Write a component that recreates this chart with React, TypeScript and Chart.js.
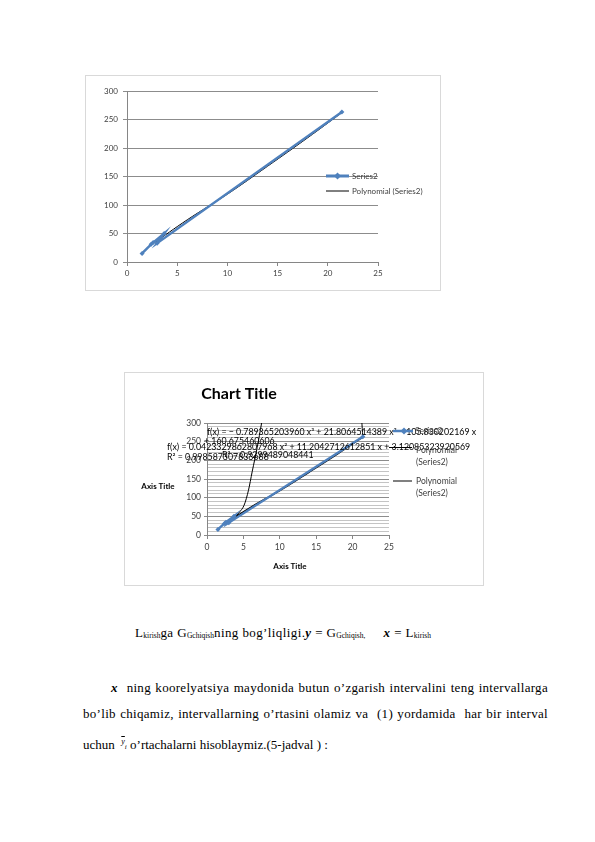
import React, { useEffect, useRef } from "react";
import { Chart, registerables } from "chart.js";

Chart.register(...registerables);

// Series2 measured points (x, y), in drawing order
const series2X = [1.5, 2.4, 2.6, 3.7, 3.0, 21.4];
const series2Y = [15, 31, 34, 50, 33, 263];

// polynomial (order 2) trendline
const polyX = [2.5, 6, 10, 14, 18, 21.4];
const polyY = [31, 74, 119, 168, 218, 262];

// polynomial (order 3) trendline of the second chart, leaves the plot at the top
const cubicX = [2.5, 3, 3.7, 4.4, 5.1, 5.7, 6.2, 6.9, 7.5, 8.2, 21.1, 21.25, 21.4];
const cubicY = [30, 33, 44, 60, 80, 120, 169, 235, 300, 380, 380, 310, 263];

const xTicks = [0, 5, 10, 15, 20, 25];
const yTicks = [0, 50, 100, 150, 200, 250, 300];

const eqCubic = ["f(x) = − 0.789365203960 x³ + 21.8064514389 x² − 105.830202169 x", "+ 160.675460606", "R² = 0.9299489048441"];
const eqQuad = ["f(x) = 0.0423329862807968 x² + 11.2042712612851 x + 3.12085323920569", "R² = 0.998587307833688"];

const BLUE = "#4f81bd";
const FONT = "Lato, 'Liberation Sans', sans-serif";

const toPts = (xs: number[], ys: number[]) => xs.map((x, i) => ({ x, y: ys[i] }));

function diamond(ctx: CanvasRenderingContext2D, x: number, y: number, r: number) {
  ctx.beginPath();
  ctx.moveTo(x, y - r);
  ctx.lineTo(x + r, y);
  ctx.lineTo(x, y + r);
  ctx.lineTo(x - r, y);
  ctx.closePath();
  ctx.fill();
}

const overlay1 = {
  id: "overlay1",
  afterDraw(chart: any) {
    const ctx = chart.ctx as CanvasRenderingContext2D;
    ctx.save();
    ctx.font = `8px ${FONT}`;
    ctx.textBaseline = "middle";
    // legend
    ctx.strokeStyle = BLUE;
    ctx.lineWidth = 3;
    ctx.beginPath();
    ctx.moveTo(240, 100);
    ctx.lineTo(263, 100);
    ctx.stroke();
    ctx.fillStyle = BLUE;
    diamond(ctx, 251.5, 100, 3.5);
    ctx.strokeStyle = "#000";
    ctx.lineWidth = 1;
    ctx.beginPath();
    ctx.moveTo(240, 115);
    ctx.lineTo(263, 115);
    ctx.stroke();
    ctx.fillStyle = "#404040";
    ctx.fillText("Series2", 266, 100);
    ctx.fillText("Polynomial (Series2)", 266, 115);
    ctx.restore();
  },
};

const overlay2 = {
  id: "overlay2",
  afterDraw(chart: any) {
    const ctx = chart.ctx as CanvasRenderingContext2D;
    // canvas origin is page (125, 373)
    const ox = 125;
    const oy = 373;
    ctx.save();
    ctx.textBaseline = "middle";
    ctx.fillStyle = "#000";
    ctx.font = `bold 16px ${FONT}`;
    ctx.textAlign = "center";
    ctx.fillText("Chart Title", 239 - ox, 394 - oy);
    ctx.font = `bold 8px ${FONT}`;
    ctx.fillText("Axis Title", 158 - ox, 486 - oy);
    ctx.fillText("Axis Title", 290 - ox, 566 - oy);

    ctx.textAlign = "left";
    ctx.font = `8.8px ${FONT}`;
    ctx.fillStyle = "#000";
    ctx.fillText(eqCubic[0], 207 - ox, 432 - oy);
    ctx.fillText(eqCubic[1], 204 - ox, 441 - oy);
    ctx.fillText(eqQuad[0], 167 - ox, 447 - oy);
    ctx.fillText(eqCubic[2], 222 - ox, 455 - oy);
    ctx.fillText(eqQuad[1], 167 - ox, 457 - oy);

    // legend
    ctx.strokeStyle = BLUE;
    ctx.lineWidth = 2.5;
    ctx.beginPath();
    ctx.moveTo(393 - ox, 431 - oy);
    ctx.lineTo(413 - ox, 431 - oy);
    ctx.stroke();
    ctx.fillStyle = BLUE;
    diamond(ctx, 404 - ox, 431 - oy, 3.5);
    ctx.strokeStyle = "#000";
    ctx.lineWidth = 1;
    ctx.beginPath();
    ctx.moveTo(389 - ox, 447.5 - oy);
    ctx.lineTo(412 - ox, 447.5 - oy);
    ctx.stroke();
    ctx.strokeStyle = "#808080";
    ctx.lineWidth = 2;
    ctx.beginPath();
    ctx.moveTo(393 - ox, 481 - oy);
    ctx.lineTo(412 - ox, 481 - oy);
    ctx.stroke();
    ctx.font = `8.5px ${FONT}`;
    ctx.fillStyle = "#404040";
    ctx.fillText("Series2", 415 - ox, 431 - oy);
    ctx.fillText("Polynomial", 416 - ox, 450 - oy);
    ctx.fillText("(Series2)", 416 - ox, 462 - oy);
    ctx.fillText("Polynomial", 416 - ox, 481 - oy);
    ctx.fillText("(Series2)", 416 - ox, 493 - oy);
    ctx.restore();
  },
};

function FirstChart() {
  const ref = useRef<HTMLCanvasElement>(null);
  useEffect(() => {
    if (!ref.current) return;
    const chart = new Chart(ref.current, {
      type: "scatter",
      data: {
        datasets: [
          {
            label: "Series2",
            data: toPts(series2X, series2Y),
            showLine: true,
            borderColor: BLUE,
            backgroundColor: BLUE,
            borderWidth: 2.5,
            pointStyle: "rectRot",
            pointRadius: 2.5,
            pointBorderWidth: 0,
          },
          {
            label: "Polynomial (Series2)",
            data: toPts(polyX, polyY),
            showLine: true,
            borderColor: "#000",
            borderWidth: 1,
            pointRadius: 0,
            tension: 0.4,
          },
        ],
      },
      options: {
        animation: false,
        responsive: true,
        maintainAspectRatio: false,
        layout: { padding: { left: 0, top: 15, right: 62, bottom: 0 } },
        plugins: { legend: { display: false }, tooltip: { enabled: false } },
        scales: {
          x: {
            type: "linear",
            min: xTicks[0],
            max: xTicks[xTicks.length - 1],
            afterFit: (s: any) => {
              s.height = 28;
            },
            afterBuildTicks: (s: any) => {
              s.ticks = xTicks.map((v) => ({ value: v }));
            },
            grid: { drawOnChartArea: false, color: "#868686", tickLength: 4 },
            border: { color: "#868686" },
            ticks: { color: "#404040", font: { family: FONT, size: 8 }, padding: 3 },
          },
          y: {
            min: yTicks[0],
            max: yTicks[yTicks.length - 1],
            afterFit: (s: any) => {
              s.width = 41;
            },
            afterBuildTicks: (s: any) => {
              s.ticks = yTicks.map((v) => ({ value: v }));
            },
            grid: { color: "#8c8c8c", tickLength: 4 },
            border: { color: "#868686" },
            ticks: { color: "#404040", font: { family: FONT, size: 8 }, padding: 5 },
          },
        },
      },
      plugins: [overlay1],
    });
    return () => chart.destroy();
  }, []);
  return <canvas ref={ref}></canvas>;
}

function SecondChart() {
  const ref = useRef<HTMLCanvasElement>(null);
  useEffect(() => {
    if (!ref.current) return;
    const isMajor = (v: number) => v % 50 === 0;
    const chart = new Chart(ref.current, {
      type: "scatter",
      data: {
        datasets: [
          {
            label: "Series2",
            data: toPts(series2X, series2Y),
            showLine: true,
            borderColor: BLUE,
            backgroundColor: BLUE,
            borderWidth: 2.5,
            pointStyle: "rectRot",
            pointRadius: 2.5,
            pointBorderWidth: 0,
          },
          {
            label: "Polynomial (Series2)",
            data: toPts(polyX, polyY),
            showLine: true,
            borderColor: "#000",
            borderWidth: 1.5,
            pointRadius: 0,
            tension: 0.4,
          },
          {
            label: "Polynomial (Series2)",
            data: toPts(cubicX, cubicY),
            showLine: true,
            borderColor: "#000",
            borderWidth: 1,
            pointRadius: 0,
            cubicInterpolationMode: "monotone",
          },
        ],
      },
      options: {
        animation: false,
        responsive: true,
        maintainAspectRatio: false,
        layout: { padding: { left: 0, top: 50, right: 94, bottom: 0 } },
        plugins: { legend: { display: false }, tooltip: { enabled: false } },
        scales: {
          x: {
            type: "linear",
            min: xTicks[0],
            max: xTicks[xTicks.length - 1],
            afterFit: (s: any) => {
              s.height = 50;
            },
            afterBuildTicks: (s: any) => {
              s.ticks = xTicks.map((v) => ({ value: v }));
            },
            grid: { drawOnChartArea: false, color: "#868686", tickLength: 4 },
            border: { color: "#868686" },
            ticks: { color: "#404040", font: { family: FONT, size: 8.5 }, padding: 3 },
          },
          y: {
            min: 0,
            max: 300,
            afterFit: (s: any) => {
              s.width = 82;
            },
            afterBuildTicks: (s: any) => {
              const t = [];
              for (let v = yTicks[0]; v <= yTicks[yTicks.length - 1]; v += 10) t.push({ value: v });
              s.ticks = t;
            },
            grid: {
              color: (c: any) => (isMajor(c.tick.value) ? "#8c8c8c" : "#c4c4c4"),
              tickColor: (c: any) => (isMajor(c.tick.value) ? "#8c8c8c" : "rgba(0,0,0,0)"),
              tickLength: 3,
            },
            border: { color: "#868686" },
            ticks: {
              autoSkip: false,
              color: "#404040",
              font: { family: FONT, size: 8.5 },
              padding: 3,
              callback: (v: any) => (isMajor(Number(v)) ? String(v) : ""),
            },
          },
        },
      },
      plugins: [overlay2],
    });
    return () => chart.destroy();
  }, []);
  return <canvas ref={ref}></canvas>;
}

const serif = "'Liberation Serif', 'Times New Roman', serif";
const sub: React.CSSProperties = { fontSize: "7.5px", verticalAlign: "-1px", letterSpacing: "0px" };
const bi: React.CSSProperties = { fontWeight: "bold", fontStyle: "italic" };
const line: React.CSSProperties = { position: "absolute", fontSize: "13px", lineHeight: "16px", whiteSpace: "pre" };
const justified: React.CSSProperties = {
  position: "absolute",
  fontSize: "13px",
  lineHeight: "16px",
  letterSpacing: "0.3px",
  textAlign: "justify",
  textAlignLast: "justify",
};

export default function App() {
  return (
    <div style={{ position: "absolute", left: 0, top: 0, width: 595, height: 842, background: "#fff", fontFamily: serif }}>
      <div style={{ position: "absolute", left: 85, top: 75, width: 354, height: 214, border: "1px solid #d9d9d9" }}>
        <FirstChart />
      </div>
      <div style={{ position: "absolute", left: 124, top: 372, width: 358, height: 212, border: "1px solid #d9d9d9" }}>
        <SecondChart />
      </div>

      <div style={{ ...line, left: 135, top: 625, letterSpacing: "0.4px" }}>
        L<span style={sub}>kirish</span>ga G<span style={sub}>Gchiqish</span>ning bog’liqligi.<span style={bi}>y</span> = G
        <span style={sub}>Gchiqish,</span>
        {"     "}
        <span style={bi}>x</span> = L<span style={sub}>kirish</span>
      </div>
      <div style={{ ...justified, left: 111, top: 680, width: 437 }}>
        <span style={bi}>x</span>{"\u00a0 "}ning koorelyatsiya maydonida butun o’zgarish intervalini teng intervallarga
      </div>
      <div style={{ ...justified, left: 83, top: 706, width: 465 }}>
        bo’lib chiqamiz, intervallarning o’rtasini olamiz va{"\u00a0 "}(1) yordamida{"\u00a0 "}har bir interval
      </div>
      <div style={{ ...line, left: 83, top: 734 }}>
        uchun{"  "}
        <span style={{ fontStyle: "italic", fontSize: "8px", verticalAlign: "5px", textDecoration: "overline" }}>y</span>
        <span style={{ fontStyle: "italic", fontSize: "7px" }}>i</span> o’rtachalarni hisoblaymiz.(5-jadval ) :
      </div>
    </div>
  );
}
